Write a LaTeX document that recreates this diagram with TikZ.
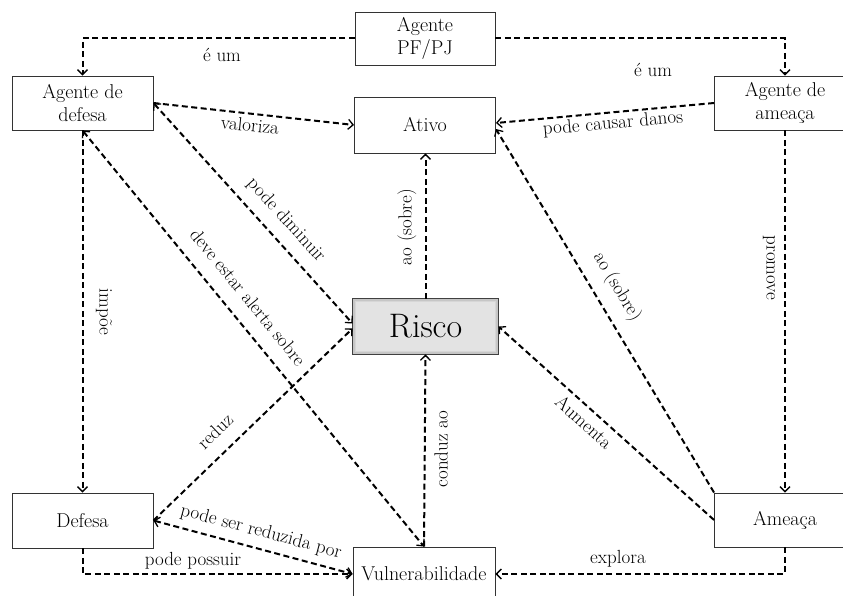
\documentclass[tikz,border=0pt]{standalone}
\usetikzlibrary{arrows.meta,calc}
\begin{document}
\begin{tikzpicture}[x=1pt,y=-1pt,
  box/.style={draw=black!80, line width=0.9pt, fill=white, minimum width=141pt,
    minimum height=54pt, inner sep=2pt, align=center,
    font=\fontsize{20}{23}\selectfont},
  tip/.tip={Straight Barb[length=5pt,width=10pt,line width=1.3pt]},
  conn/.style={line width=2pt, dash pattern=on 6pt off 3.5pt, -tip},
  twoway/.style={line width=2pt, dash pattern=on 6pt off 3.5pt, tip-tip},
  lbl/.style={font=\fontsize{19}{21}\selectfont, inner sep=0pt}]

% canvas
\fill[white] (0,0) rectangle (843,596);
\useasboundingbox (0,0) rectangle (843,596);

% concepts
\node[box, minimum width=140pt, minimum height=53pt] (pf) at (425,38.5) {Agente\\PF/PJ};
\node[box] (ad) at (82.5,103) {Agente de\\defesa};
\node[box] (aa) at (785,103) {Agente de\\ameaça};
\node[box, minimum height=56pt] (ativo) at (425,125) {Ativo};
\node[box, minimum width=145pt, minimum height=55pt, fill=gray!22] (risco) at (425.5,326.5) {};
\node[box, minimum height=55pt] (defesa) at (82.5,520.5) {Defesa};
\node[box] (am) at (785,520) {Ameaça};
\node[box, minimum width=142pt] (vul) at (424,574) {Vulnerabilidade};

% soft inner edge and title of the risk box
\draw[gray!45, line width=2.4pt]
  ($(risco.north west)+(1.2,1.2)$) rectangle ($(risco.south east)+(-1.2,-1.2)$);
\draw[gray!32, line width=1.6pt]
  ($(risco.north west)+(3.0,3.0)$) rectangle ($(risco.south east)+(-3.0,-3.0)$);
\draw[black!75, line width=0.9pt] (risco.north west) rectangle (risco.south east);
\node[font=\fontsize{34}{38}\selectfont, inner sep=0pt] (riscotxt) at (risco.center) {Risco};

% relations
\draw[conn] (pf.west) -| (ad.north)
  node[lbl] at (222,55) {é um};
\draw[conn] (pf.east) -| (aa.north)
  node[lbl] at (653,70) {é um};
\draw[conn] (ad.east) -- (ativo.west)
  node[lbl, rotate=-6] at (250,125) {valoriza};
\draw[conn] (aa.west) -- ($(ativo.east)+(0,-2)$)
  node[lbl, rotate=5] at (613,124) {pode causar danos};
\draw[conn] (risco.north) -- (risco.north |- ativo.south)
  node[lbl, rotate=90] at (407,227) {ao (sobre)};
\draw[conn] (am.north west) -- ($(ativo.east)+(0,4)$)
  node[lbl, rotate=-59] at (617,287) {ao (sobre)};
\draw[conn] (am.west) -- (risco.east)
  node[lbl, rotate=-42] at (584,422) {Aumenta};
\draw[conn] (aa.south) -- (am.north)
  node[lbl, rotate=-90] at (769,268) {promove};
\draw[conn] (ad.south) -- (defesa.north)
  node[lbl, rotate=-90] at (104,312) {impõe};
\draw[twoway] (ad.east) -- ($(risco.west)+(0,-3)$)
  node[lbl, rotate=-47.7] at (286,220) {pode diminuir};
\draw[twoway] (ad.south) -- (vul.north)
  node[lbl, rotate=-50.7] at (248,297) {deve estar alerta sobre};
\draw[conn] (defesa.east) -- ($(risco.west)+(0,2)$)
  node[lbl, rotate=43.8] at (215,431) {reduz};
\draw[conn] (vul.north) -- (risco.south)
  node[lbl, rotate=90] at (441,449) {conduz ao};
\draw[twoway] (defesa.east) -- (vul.west)
  node[lbl, rotate=-15] at (261,532) {pode ser reduzida por};
\draw[conn] (defesa.south) |- (vul.west)
  node[lbl] at (193,561) {pode possuir};
\draw[conn] (am.south) |- (vul.east)
  node[lbl] at (618,559) {explora};
\end{tikzpicture}
\end{document}
